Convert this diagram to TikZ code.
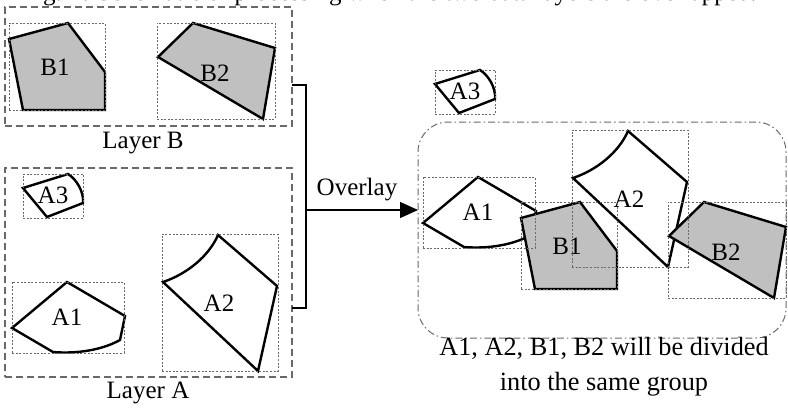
\documentclass[tikz,border=0pt]{standalone}
\usepackage{fontspec}
\setmainfont{Liberation Serif}
\usetikzlibrary{arrows.meta}
\definecolor{shade}{RGB}{192,192,192}
\definecolor{frame}{RGB}{105,105,105}

\tikzset{
  outline/.style={draw=black, line width=2.4pt, line join=miter, fill=white},
  filled/.style={outline, fill=shade},
  boundbox/.style={draw=frame, line width=0.9pt, dash pattern=on 2pt off 1.6pt,
    inner sep=0pt, outer sep=0pt, anchor=north west},
  layerbox/.style={draw=frame, line width=1.1pt, dash pattern=on 7pt off 4pt,
    inner sep=0pt, outer sep=0pt, anchor=north west},
  groupbox/.style={draw=frame, line width=1pt,
    dash pattern=on 7pt off 3pt on 1.5pt off 3pt, rounded corners=30pt,
    inner sep=0pt, outer sep=0pt, anchor=north west},
  tag/.style={font=\fontsize{25}{28}\selectfont, inner sep=0pt},
  notetext/.style={font=\fontsize{26.3}{30}\selectfont, inner sep=0pt},
  link/.style={draw=black, line width=1.2pt},
}

% polygons, in coordinates relative to the top-left corner of their extent box
\newcommand\polyAone[1]{%
  \filldraw[outline] (0,46) -- (55,0) -- (113,34) -- (108,58)
    .. controls (90,68) and (65,72) .. (41,70) -- cycle;
  \node[tag] (#1) at (55,35) {A1};}
\newcommand\polyAtwo[1]{%
  \filldraw[outline] (1,48) .. controls (25,40) and (47,22) .. (56,1)
    -- (115,52) -- (96,137) -- cycle;
  \node[tag] (#1) at (57,69) {A2};}
\newcommand\polyAthree[1]{%
  \filldraw[outline] (0,14) -- (45,0) .. controls (53,5) and (61,17) .. (60,29)
    -- (24,43) -- cycle;
  \node[tag] (#1) at (30,21) {A3};}
\newcommand\polyBone[1]{%
  \filldraw[filled] (0,16) -- (59,0) -- (96,49) -- (96,87) -- (14,87) -- cycle;
  \node[tag] (#1) at (46,44) {B1};}
\newcommand\polyBtwo[1]{%
  \filldraw[filled] (36,0) -- (118,25) -- (106,96) -- (1,34) -- cycle;
  \node[tag] (#1) at (58,50) {B2};}

\begin{document}
\begin{tikzpicture}[x=1pt, y=-1pt]
  \useasboundingbox (0,0) rectangle (788,413);
  \clip (0,0) rectangle (788,413);

  % caption line above the figure, running off the top edge
  \node[tag, anchor=base west] (title) at (22,0)
    {Fig. 7. Schematic of processing when the two data layers are overlapped.};

  % layer frames and the group frame
  \node[layerbox, minimum width=287pt, minimum height=119pt] (layerB) at (5,7) {};
  \node[layerbox, minimum width=287pt, minimum height=209pt] (layerA) at (5,168) {};
  \node[groupbox, minimum width=368pt, minimum height=216pt] (group) at (418,122) {};

  \node[tag, anchor=base] (labB) at (143,148) {Layer B};
  \node[tag, anchor=base] (labA) at (148,398) {Layer A};

  % layer B
  \begin{scope}[shift={(9,23)}]\polyBone{lB1}\end{scope}
  \begin{scope}[shift={(157,23)}]\polyBtwo{lB2}\end{scope}
  % layer A
  \begin{scope}[shift={(23,174)}]\polyAthree{lA3}\end{scope}
  \begin{scope}[shift={(12,282)}]\polyAone{lA1}\end{scope}
  \begin{scope}[shift={(162,234)}]\polyAtwo{lA2}\end{scope}

  % overlaid result
  \begin{scope}[shift={(435,70)}]\polyAthree{rA3}\end{scope}
  \begin{scope}[shift={(423,177)}]\polyAone{rA1}\end{scope}
  \begin{scope}[shift={(572,130)}]\polyAtwo{rA2}\end{scope}
  \begin{scope}[shift={(521,202)}]\polyBone{rB1}\end{scope}
  \begin{scope}[shift={(668,202)}]\polyBtwo{rB2}\end{scope}

  % extent boxes
  \node[boundbox, minimum width=96pt,  minimum height=87pt]  (xlB1) at (9,23) {};
  \node[boundbox, minimum width=118pt, minimum height=96pt]  (xlB2) at (157,23) {};
  \node[boundbox, minimum width=60pt,  minimum height=44pt]  (xlA3) at (23,174) {};
  \node[boundbox, minimum width=112pt, minimum height=71pt]  (xlA1) at (12,282) {};
  \node[boundbox, minimum width=116pt, minimum height=137pt] (xlA2) at (162,234) {};
  \node[boundbox, minimum width=60pt,  minimum height=44pt]  (xrA3) at (435,70) {};
  \node[boundbox, minimum width=112pt, minimum height=71pt]  (xrA1) at (423,177) {};
  \node[boundbox, minimum width=116pt, minimum height=137pt] (xrA2) at (572,130) {};
  \node[boundbox, minimum width=96pt,  minimum height=87pt]  (xrB1) at (521,202) {};
  \node[boundbox, minimum width=118pt, minimum height=96pt]  (xrB2) at (668,202) {};

  % bracket joining both layers and the overlay arrow
  \coordinate (joint) at (306,210);
  \draw[link] (layerB.east |- 0,85) -| (joint) |- (layerA.east |- 0,308);
  \draw[link, -{Triangle[length=18pt, width=16pt]}] (joint) -- (group.west |- joint);
  \node[tag, anchor=base] (over) at (357,195) {Overlay};

  % result note
  \node[notetext, anchor=base] (note1) at (604,355) {A1, A2, B1, B2 will be divided};
  \node[notetext, anchor=base] (note2) at (604,390) {into the same group};
\end{tikzpicture}
\end{document}
